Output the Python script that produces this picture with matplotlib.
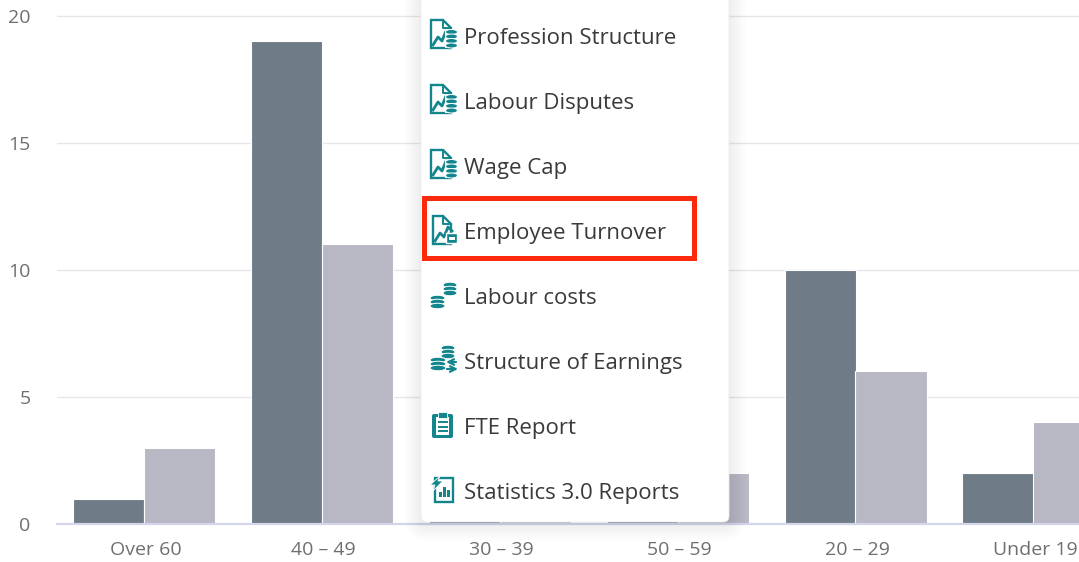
import matplotlib
matplotlib.use("Agg")
import matplotlib.pyplot as plt
import numpy as np
from matplotlib.patches import FancyBboxPatch, Rectangle, Polygon, Ellipse

# age groups, the two series (30-39 and 50-59 are mostly hidden by the menu, so estimated)
categories = ["Over 60", "40 – 49", "30 – 39", "50 – 59", "20 – 29", "Under 19"]
dark_values = [1, 19, 6, 4, 10, 2]
light_values = [3, 11, 3, 2, 6, 4]
y_ticks = [0, 5, 10, 15, 20]

menu_items = ["Profession Structure", "Labour Disputes", "Wage Cap", "Employee Turnover",
              "Labour costs", "Structure of Earnings", "FTE Report", "Statistics 3.0 Reports"]
menu_rows = [38.5, 103.5, 168.5, 233.5, 298.5, 363.5, 428.5, 493.5]
icon_rows = [36, 101, 166, 231, 296, 361, 426, 491]

TEAL = "#12868c"
W, H = 1079, 562
plt.rcParams["font.family"] = ["Open Sans", "DejaVu Sans"]

fig = plt.figure(figsize=(W / 100, H / 100), dpi=100, facecolor="white")
ax = fig.add_axes([57 / W, (H - 524) / H, (W - 57) / W, 524 / H])

x = np.arange(len(categories))
bar_w = 0.40
ax.bar(x - 0.208, dark_values, bar_w, color="#6f7b87", edgecolor="white", linewidth=0.8, zorder=3)
ax.bar(x + 0.19, light_values, bar_w, color="#b7b8c3", edgecolor="white", linewidth=0.8, zorder=3)

ax.set_xlim(-0.5, (W - 146) / 177.8)
ax.set_ylim(0, 20.61)
ax.set_xticks(x)
ax.set_xticklabels(categories)
ax.set_yticks(y_ticks)
ax.tick_params(axis="x", length=0, pad=12, labelsize=14, labelcolor="#6f6f6f")
ax.tick_params(axis="y", length=0, pad=19, labelsize=14, labelcolor="#6f6f6f")
ax.grid(axis="y", color="#e6e6ec", lw=1.0, zorder=0)
for s in ["top", "right", "left"]:
    ax.spines[s].set_visible(False)
ax.spines["bottom"].set_color("#d3d6ea")
ax.spines["bottom"].set_linewidth(1.6)
ax.spines["bottom"].set_zorder(4)

# overlay in pixel coordinates for the popup menu
ov = fig.add_axes([0, 0, 1, 1], facecolor="none")
ov.set_xlim(0, W)
ov.set_ylim(H, 0)
ov.axis("off")

# soft shadow
for grow in range(1, 18):
    ov.add_patch(FancyBboxPatch((421 - grow, -30), 308 + 2 * grow, 552 + grow + 2,
                                boxstyle="round,pad=0,rounding_size=%d" % (6 + grow),
                                fc="black", ec="none", alpha=0.004, zorder=5))
ov.add_patch(FancyBboxPatch((421, -30), 308, 552, boxstyle="round,pad=0,rounding_size=6",
                            fc="white", ec="#ececec", lw=0.6, zorder=6))


def doc_outline(x0, y0, w, h):
    ov.add_patch(Polygon([(x0, y0), (x0 + w - 8, y0), (x0 + w, y0 + 8), (x0 + w, y0 + h), (x0, y0 + h)],
                         closed=True, fc="white", ec=TEAL, lw=1.7, zorder=7))
    ov.plot([x0 + w - 8, x0 + w - 8, x0 + w], [y0, y0 + 8, y0 + 8], color=TEAL, lw=1.4, zorder=7)


def coins(x0, y0, w, n, gap=4, h=5.5):
    for k in range(n):
        ov.add_patch(Ellipse((x0 + w / 2, y0 + k * gap), w, h, fc=TEAL, ec="white", lw=0.7, zorder=9))


def chart_doc_icon(y, small_box=False, dx=0):
    x0 = 431 + dx
    doc_outline(x0, y - 16, 20 - dx, 28)
    ov.plot([x0 + 2, x0 + 7, x0 + 11, x0 + 15, x0 + 19], [y + 9, y + 1, y + 5, y - 5, y - 1],
            color=TEAL, lw=2.0, zorder=8)
    if small_box:
        ov.add_patch(Rectangle((446, y + 1), 11, 10, fc=TEAL, ec="white", lw=1, zorder=9))
        ov.add_patch(Rectangle((449, y + 5), 6, 3, fc="white", ec="none", zorder=10))
    else:
        ov.add_patch(Rectangle((445, y - 6), 13, 18, fc="white", ec="none", zorder=8))
        coins(445.5, y - 4, 12, 4, 4.5, 5)


def coin_stack_icon(y):
    coins(443, y - 11, 14, 3, 4)
    coins(430, y + 2, 15, 3, 4)


def earnings_icon(y):
    coins(441, y - 12, 14, 3, 4)
    coins(430, y + 0, 16, 3, 4)
    ov.annotate("", xy=(446, y + 2), xytext=(456, y + 2), zorder=10,
                arrowprops=dict(arrowstyle="->", color=TEAL, lw=1.6, shrinkA=0, shrinkB=0))
    ov.annotate("", xy=(458, y + 9), xytext=(447, y + 9), zorder=10,
                arrowprops=dict(arrowstyle="->", color=TEAL, lw=1.6, shrinkA=0, shrinkB=0))


def clipboard_icon(y):
    ov.add_patch(FancyBboxPatch((432, y - 11), 21, 24, boxstyle="round,pad=0,rounding_size=2",
                                fc=TEAL, ec="none", zorder=7))
    ov.add_patch(Rectangle((436, y - 8), 13, 18, fc="white", ec="none", zorder=8))
    ov.add_patch(Rectangle((438, y - 13), 9, 6, fc=TEAL, ec="white", lw=0.6, zorder=9))
    for dy in [-3, 1.5, 6]:
        ov.plot([438.5, 446.5], [y + dy, y + dy], color=TEAL, lw=1.4, zorder=9)


def stats_icon(y):
    ov.add_patch(Rectangle((435, y - 12), 18, 24, fc="white", ec=TEAL, lw=1.7, zorder=7))
    ov.add_patch(Polygon([(440, y - 14), (430, y - 5), (435, y - 5), (433, y + 1), (443, y - 9), (438, y - 9)],
                         closed=True, fc=TEAL, ec="white", lw=0.6, zorder=8))
    for bx, top in [(438.5, 2), (442.5, -3), (446.5, 0)]:
        ov.add_patch(Rectangle((bx, y + top), 3, 7 - top, fc=TEAL, ec="none", zorder=8))


for label, row in zip(menu_items, menu_rows):
    ov.text(464, row, label, fontsize=16.0, color="#3a3a3a", va="center", ha="left", zorder=8)

for row in icon_rows[:3]:
    chart_doc_icon(row)
chart_doc_icon(icon_rows[3] + 1, small_box=True, dx=2)
coin_stack_icon(icon_rows[4])
earnings_icon(icon_rows[5] - 1)
clipboard_icon(icon_rows[6] - 1)
stats_icon(icon_rows[7] - 1)

# red highlight around Employee Turnover
ov.add_patch(Rectangle((424, 197.5), 269.5, 60, fc="none", ec="#fb2a0c", lw=3.6, zorder=10))

fig.savefig("out.png", dpi=100)
